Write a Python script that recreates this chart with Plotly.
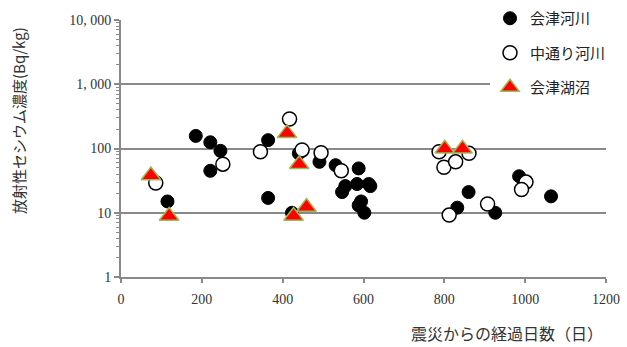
import plotly.graph_objects as go

# 会津河川 (filled black circles)
aizu_river_days = [115, 185, 221, 246, 221, 364, 364, 440, 423, 491, 531, 547, 555, 584, 588, 594, 588, 602, 613, 617, 832, 860, 926, 985, 1064]
aizu_river_vals = [15, 157, 125, 92, 45, 17, 135, 84, 10, 62, 55, 21, 26, 28, 49, 15, 13, 10, 28, 26, 12, 21, 10, 37, 18]

# 中通り河川 (open circles)
naka_river_days = [86, 252, 345, 417, 448, 495, 545, 787, 799, 828, 861, 812, 907, 1002, 991]
naka_river_vals = [29, 57, 89, 288, 95, 86, 45, 89, 51, 62, 84, 9.2, 13.7, 30, 23]

# 会津湖沼 (red triangles)
aizu_lake_days = [74, 119, 411, 441, 427, 459, 801, 845]
aizu_lake_vals = [38, 8.9, 172, 57, 8.9, 12.3, 99, 99]

y_tickvals = [1, 10, 100, 1000, 10000]
y_ticktext = ["1", "10", "100", "1, 000", "10, 000"]
x_tickvals = [0, 200, 400, 600, 800, 1000, 1200]

AX = "#898989"
JP = "Noto Sans CJK JP"
SERIF = "Liberation Serif"

fig = go.Figure()
fig.add_trace(go.Scatter(
    x=aizu_river_days, y=aizu_river_vals, mode="markers", name="会津河川",
    legendgroup="a",
    marker=dict(symbol="circle", size=13, color="black", line=dict(color="black", width=1)),
))
fig.add_trace(go.Scatter(
    x=naka_river_days, y=naka_river_vals, mode="markers", name="中通り河川",
    legendgroup="b",
    marker=dict(symbol="circle", size=14, color="white", line=dict(color="black", width=1.5)),
))
fig.add_trace(go.Scatter(
    x=aizu_lake_days, y=aizu_lake_vals, mode="markers", name="会津湖沼",
    legendgroup="c",
    marker=dict(symbol="triangle-up", size=17, color="#FF0000", line=dict(color="#9BBB59", width=1.5)),
))

fig.update_layout(
    width=627, height=347,
    margin=dict(l=121, r=21, t=20, b=70, autoexpand=False),
    plot_bgcolor="white", paper_bgcolor="white",
    showlegend=True,
    legend=dict(
        xref="container", yref="container",
        x=490 / 627, xanchor="left", y=1 - 2 / 347, yanchor="top",
        bgcolor="white", borderwidth=0,
        font=dict(family=JP, size=15, color="#222"),
        tracegroupgap=12, traceorder="grouped",
        itemsizing="trace",
    ),
    xaxis=dict(
        range=[0, 1200], tickvals=x_tickvals,
        showgrid=False, zeroline=False, automargin=False,
        showline=True, linecolor=AX, linewidth=2,
        ticks="outside", ticklen=4, tickwidth=2, tickcolor=AX,
        tickfont=dict(family=SERIF, size=14, color="#333"),
        ticklabelstandoff=4,
    ),
    yaxis=dict(
        type="log", range=[0, 4], automargin=False,
        tickvals=y_tickvals, ticktext=y_ticktext,
        showgrid=True, gridcolor=AX, gridwidth=2,
        zeroline=False,
        showline=True, linecolor=AX, linewidth=2,
        ticks="outside", ticklen=5, tickwidth=2, tickcolor=AX,
        tickfont=dict(family=SERIF, size=14, color="#333"),
        minor=dict(ticks="outside", ticklen=3, tickwidth=1, tickcolor=AX, dtick="D1", showgrid=False),
    ),
    annotations=[
        dict(text="放射性セシウム濃度(Bq/kg)", xref="paper", yref="paper",
             x=(18 - 121) / 485, y=(277 - 121) / 257, xanchor="center", yanchor="middle",
             textangle=-90, showarrow=False, font=dict(family=JP, size=15, color="#333")),
        dict(text="震災からの経過日数（日）", xref="paper", yref="paper",
             x=(507 - 121) / 485, y=(277 - 333) / 257, xanchor="center", yanchor="middle",
             showarrow=False, font=dict(family=JP, size=16, color="#333")),
    ],
)

fig.write_html("out.html", config={"displayModeBar": False},
               post_script="document.body.style.margin='0';")
